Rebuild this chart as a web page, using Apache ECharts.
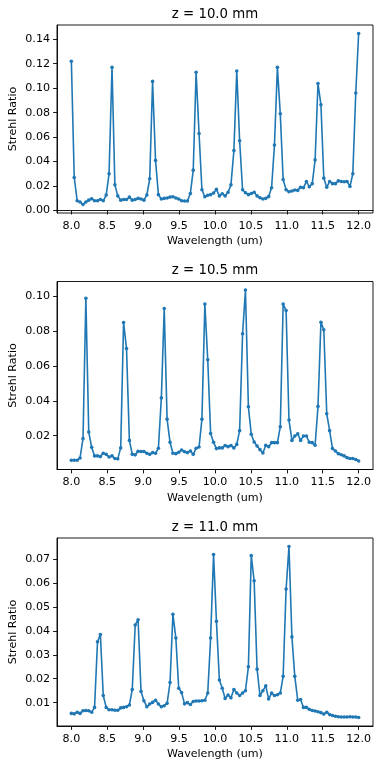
<!DOCTYPE html>
<html>
<head>
<meta charset="utf-8">
<script src="https://cdn.jsdelivr.net/npm/echarts@6/dist/echarts.min.js"></script>
<style>
html,body{margin:0;padding:0;background:#fff;}
#chart{width:382px;height:769px;}
</style>
</head>
<body>
<div id="chart"></div>
<script>
// Wavelength samples (um)
var wavelengths = [
8.000, 8.040, 8.081, 8.121, 8.162, 8.202, 8.242, 8.283, 8.323, 8.364,
8.404, 8.444, 8.485, 8.525, 8.566, 8.606, 8.646, 8.687, 8.727, 8.768,
8.808, 8.848, 8.889, 8.929, 8.970, 9.010, 9.051, 9.091, 9.131, 9.172,
9.212, 9.253, 9.293, 9.333, 9.374, 9.414, 9.455, 9.495, 9.535, 9.576,
9.616, 9.657, 9.697, 9.737, 9.778, 9.818, 9.859, 9.899, 9.939, 9.980,
10.020, 10.061, 10.101, 10.141, 10.182, 10.222, 10.263, 10.303, 10.343, 10.384,
10.424, 10.465, 10.505, 10.545, 10.586, 10.626, 10.667, 10.707, 10.747, 10.788,
10.828, 10.869, 10.909, 10.949, 10.990, 11.030, 11.071, 11.111, 11.152, 11.192,
11.232, 11.273, 11.313, 11.354, 11.394, 11.434, 11.475, 11.515, 11.556, 11.596,
11.636, 11.677, 11.717, 11.758, 11.798, 11.838, 11.879, 11.919, 11.960, 12.000
];

// Strehl ratio, z = 10.0 mm
var strehl_z100 = [
0.122, 0.027, 0.008, 0.007, 0.005, 0.007, 0.0085, 0.0097, 0.008, 0.008,
0.009, 0.008, 0.0127, 0.030, 0.117, 0.021, 0.012, 0.0085, 0.009, 0.009,
0.011, 0.0085, 0.009, 0.010, 0.0095, 0.0085, 0.0127, 0.026, 0.1055, 0.041,
0.013, 0.0095, 0.010, 0.0103, 0.011, 0.0113, 0.0103, 0.0095, 0.008, 0.0078,
0.0078, 0.014, 0.033, 0.113, 0.063, 0.017, 0.0113, 0.0125, 0.013, 0.0143,
0.0173, 0.012, 0.0138, 0.012, 0.015, 0.021, 0.049, 0.114, 0.057, 0.017,
0.0146, 0.013, 0.014, 0.015, 0.012, 0.0105, 0.0095, 0.010, 0.0114, 0.0186,
0.0535, 0.117, 0.079, 0.0254, 0.017, 0.0154, 0.016, 0.0168, 0.0165, 0.019,
0.0186, 0.0238, 0.0195, 0.022, 0.0414, 0.1038, 0.0865, 0.0265, 0.019, 0.0238,
0.022, 0.022, 0.0243, 0.0238, 0.0235, 0.0238, 0.0197, 0.030, 0.096, 0.1446
];

// Strehl ratio, z = 10.5 mm
var strehl_z105 = [
0.0059, 0.0059, 0.0059, 0.0072, 0.0183, 0.0989, 0.0221, 0.0133, 0.0084, 0.0084,
0.008, 0.0099, 0.0093, 0.0078, 0.0084, 0.0069, 0.0067, 0.013, 0.085, 0.070,
0.0173, 0.0093, 0.009, 0.011, 0.0109, 0.0109, 0.0099, 0.0093, 0.0103, 0.0099,
0.0128, 0.0417, 0.093, 0.0295, 0.0162, 0.0099, 0.0097, 0.0105, 0.0118, 0.0108,
0.0103, 0.0112, 0.0093, 0.0128, 0.0135, 0.0295, 0.0956, 0.0636, 0.0213, 0.0162,
0.0126, 0.013, 0.013, 0.0143, 0.0137, 0.0143, 0.013, 0.015, 0.0229, 0.0785,
0.1036, 0.0366, 0.0208, 0.0164, 0.0141, 0.012, 0.0101, 0.0145, 0.0137, 0.016,
0.016, 0.016, 0.0251, 0.0956, 0.0918, 0.029, 0.0173, 0.0198, 0.0211, 0.0173,
0.0198, 0.0198, 0.0162, 0.016, 0.0145, 0.0368, 0.0851, 0.0808, 0.0326, 0.0229,
0.0126, 0.0112, 0.0097, 0.0091, 0.0084, 0.0074, 0.0069, 0.0069, 0.0063, 0.0055
];

// Strehl ratio, z = 11.0 mm
var strehl_z110 = [
0.0055, 0.0053, 0.006, 0.0055, 0.0066, 0.0067, 0.0066, 0.006, 0.008, 0.0355,
0.0385, 0.013, 0.008, 0.007, 0.007, 0.0068, 0.0068, 0.0078, 0.008, 0.0083,
0.009, 0.0155, 0.0425, 0.0447, 0.0147, 0.0108, 0.0083, 0.0094, 0.0101, 0.011,
0.0094, 0.0083, 0.0087, 0.0097, 0.0184, 0.047, 0.037, 0.016, 0.0142, 0.0095,
0.01, 0.0092, 0.0105, 0.0107, 0.0107, 0.0108, 0.011, 0.014, 0.037, 0.072,
0.044, 0.0195, 0.016, 0.0117, 0.0132, 0.012, 0.0155, 0.014, 0.013, 0.014,
0.015, 0.025, 0.0715, 0.061, 0.024, 0.013, 0.015, 0.017, 0.0115, 0.014,
0.013, 0.0133, 0.014, 0.021, 0.0575, 0.0753, 0.0375, 0.021, 0.011, 0.0113,
0.008, 0.008, 0.0072, 0.0067, 0.0065, 0.0062, 0.0058, 0.0052, 0.006, 0.005,
0.0046, 0.0043, 0.0041, 0.004, 0.004, 0.004, 0.0041, 0.004, 0.004, 0.0038
];

var panelTitles = ['z = 10.0 mm', 'z = 10.5 mm', 'z = 11.0 mm'];

var xTicks = [8.0, 8.5, 9.0, 9.5, 10.0, 10.5, 11.0, 11.5, 12.0];
var xTickLabels = ['8.0', '8.5', '9.0', '9.5', '10.0', '10.5', '11.0', '11.5', '12.0'];

var yTicks1 = [0.00, 0.02, 0.04, 0.06, 0.08, 0.10, 0.12, 0.14];
var yTickLabels1 = ['0.00', '0.02', '0.04', '0.06', '0.08', '0.10', '0.12', '0.14'];
var yTicks2 = [0.02, 0.04, 0.06, 0.08, 0.10];
var yTickLabels2 = ['0.02', '0.04', '0.06', '0.08', '0.10'];
var yTicks3 = [0.01, 0.02, 0.03, 0.04, 0.05, 0.06, 0.07];
var yTickLabels3 = ['0.01', '0.02', '0.03', '0.04', '0.05', '0.06', '0.07'];

var xLabelText = 'Wavelength (um)';
var yLabelText = 'Strehl Ratio';

var series = [strehl_z100, strehl_z105, strehl_z110];
var yTicksAll = [yTicks1, yTicks2, yTicks3];
var yLabelsAll = [yTickLabels1, yTickLabels2, yTickLabels3];

var FONT = 'DejaVu Sans';
var BLUE = '#1f77b4';
var gridTops = [25, 281.5, 538];
var gridH = 188;

function labelFrom(ticks, labels) {
  return function (v) {
    for (var i = 0; i < ticks.length; i++) {
      if (Math.abs(ticks[i] - v) < 1e-9) return labels[i];
    }
    return '';
  };
}

var option = {
  animation: false,
  backgroundColor: '#fff',
  title: [], grid: [], xAxis: [], yAxis: [], series: []
};

for (var k = 0; k < 3; k++) {
  var ys = series[k];
  var lo = Math.min.apply(null, ys), hi = Math.max.apply(null, ys);
  var pad = (hi - lo) * 0.05;
  option.title.push({
    text: panelTitles[k],
    left: 215, top: gridTops[k] - 17, textAlign: 'center', padding: 0,
    textStyle: { fontFamily: FONT, fontSize: 13.3, fontWeight: 'normal', color: '#000' }
  });
  option.grid.push({
    left: 57, right: 9, top: gridTops[k], height: gridH,
    containLabel: false, outerBoundsMode: 'none',
    show: true, borderColor: '#000', borderWidth: 0.9, backgroundColor: 'transparent'
  });
  option.xAxis.push({
    type: 'value', gridIndex: k, min: 7.8, max: 12.2,
    name: xLabelText, nameLocation: 'middle', nameGap: 23, nameMoveOverlap: false,
    nameTextStyle: { fontFamily: FONT, fontSize: 11.1, color: '#000' },
    axisLine: { show: true, lineStyle: { color: '#000', width: 0.9 } },
    axisTick: { show: true, inside: false, length: 3.9, lineStyle: { color: '#000', width: 0.9 }, customValues: xTicks },
    axisLabel: { show: true, margin: 7.5, fontFamily: FONT, fontSize: 11.1, color: '#000',
      customValues: xTicks, formatter: labelFrom(xTicks, xTickLabels) },
    splitLine: { show: false }
  });
  option.yAxis.push({
    type: 'value', gridIndex: k, min: lo - pad, max: hi + pad,
    name: yLabelText, nameLocation: 'middle', nameGap: 38, nameRotate: 90, nameMoveOverlap: false,
    nameTextStyle: { fontFamily: FONT, fontSize: 11.1, color: '#000' },
    axisLine: { show: true, lineStyle: { color: '#000', width: 0.9 } },
    axisTick: { show: true, inside: false, length: 3.9, lineStyle: { color: '#000', width: 0.9 }, customValues: yTicksAll[k] },
    axisLabel: { show: true, margin: 7, fontFamily: FONT, fontSize: 11.1, color: '#000',
      customValues: yTicksAll[k], formatter: labelFrom(yTicksAll[k], yLabelsAll[k]) },
    splitLine: { show: false }
  });
  option.series.push({
    type: 'line', xAxisIndex: k, yAxisIndex: k,
    data: wavelengths.map(function (x, i) { return [x, ys[i]]; }),
    symbol: 'circle', symbolSize: 3.6, showSymbol: true, showAllSymbol: true,
    lineStyle: { color: BLUE, width: 1.6 },
    itemStyle: { color: BLUE },
    emphasis: { disabled: true }
  });
}

var chart = echarts.init(document.getElementById('chart'), null, { renderer: 'canvas' });
chart.setOption(option);
</script>
</body>
</html>
